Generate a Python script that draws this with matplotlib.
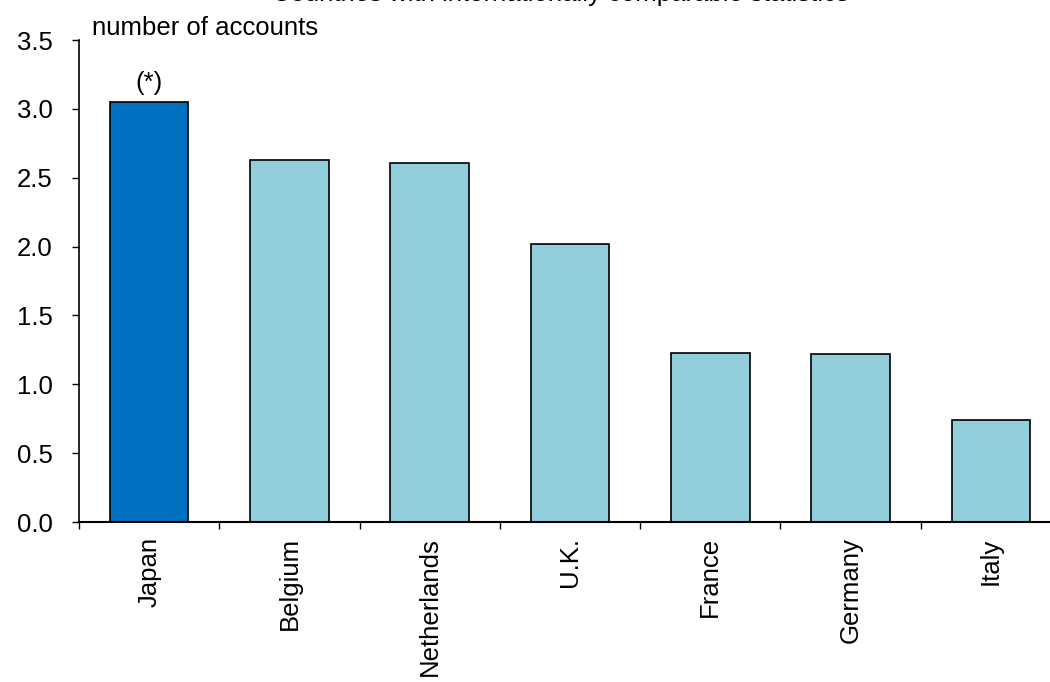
import matplotlib
matplotlib.use("Agg")
import matplotlib.pyplot as plt
import numpy as np

categories = ["Japan", "Belgium", "Netherlands", "U.K.", "France", "Germany", "Italy"]
values = [3.05, 2.63, 2.61, 2.02, 1.23, 1.22, 0.74]
colors = ["#0070C0", "#92CDDC", "#92CDDC", "#92CDDC", "#92CDDC", "#92CDDC", "#92CDDC"]
yticks = [0.0, 0.5, 1.0, 1.5, 2.0, 2.5, 3.0, 3.5]

plt.rcParams['font.family'] = ['Liberation Sans', 'DejaVu Sans']
FS = 18.5

W, H = 1050, 682
fig = plt.figure(figsize=(W/100, H/100), dpi=100)
ax = fig.add_axes([79/W, 1-522/H, (1061-79)/W, (522-40)/H])

x = np.arange(len(categories))
ax.bar(x, values, width=0.56, color=colors, edgecolor="black", linewidth=1.2, zorder=2)

ax.set_xlim(-0.5, len(categories)-0.5)
ax.set_ylim(0, 3.5)
ax.set_yticks(yticks)
ax.set_yticklabels([f"{v:.1f}" for v in yticks], fontsize=FS)

ax.set_xticks(np.arange(-0.5, len(categories), 1.0))
ax.set_xticklabels([])
ax.set_xticks(x, minor=True)
ax.set_xticklabels(categories, minor=True, rotation=90, fontsize=FS)
ax.tick_params(axis='x', which='major', direction='out', length=5, width=1)
ax.tick_params(axis='x', which='minor', length=0, pad=11)
ax.tick_params(axis='y', direction='out', length=5, width=1, pad=14)

for s in ["top", "right"]:
    ax.spines[s].set_visible(False)
ax.spines["left"].set_linewidth(1.2)
ax.spines["bottom"].set_linewidth(1.5)

ax.annotate("(*)", xy=(0, values[0]), xytext=(0, 5), textcoords="offset points",
            ha="center", va="bottom", fontsize=FS)
fig.text(92/W, 1-28/H, "number of accounts", ha="left", va="center", fontsize=FS)
fig.text(560/W, 1-1.5/H, "Countries with internationally comparable statistics",
         ha="center", va="baseline", fontsize=FS)

fig.savefig("out.png", dpi=100)
